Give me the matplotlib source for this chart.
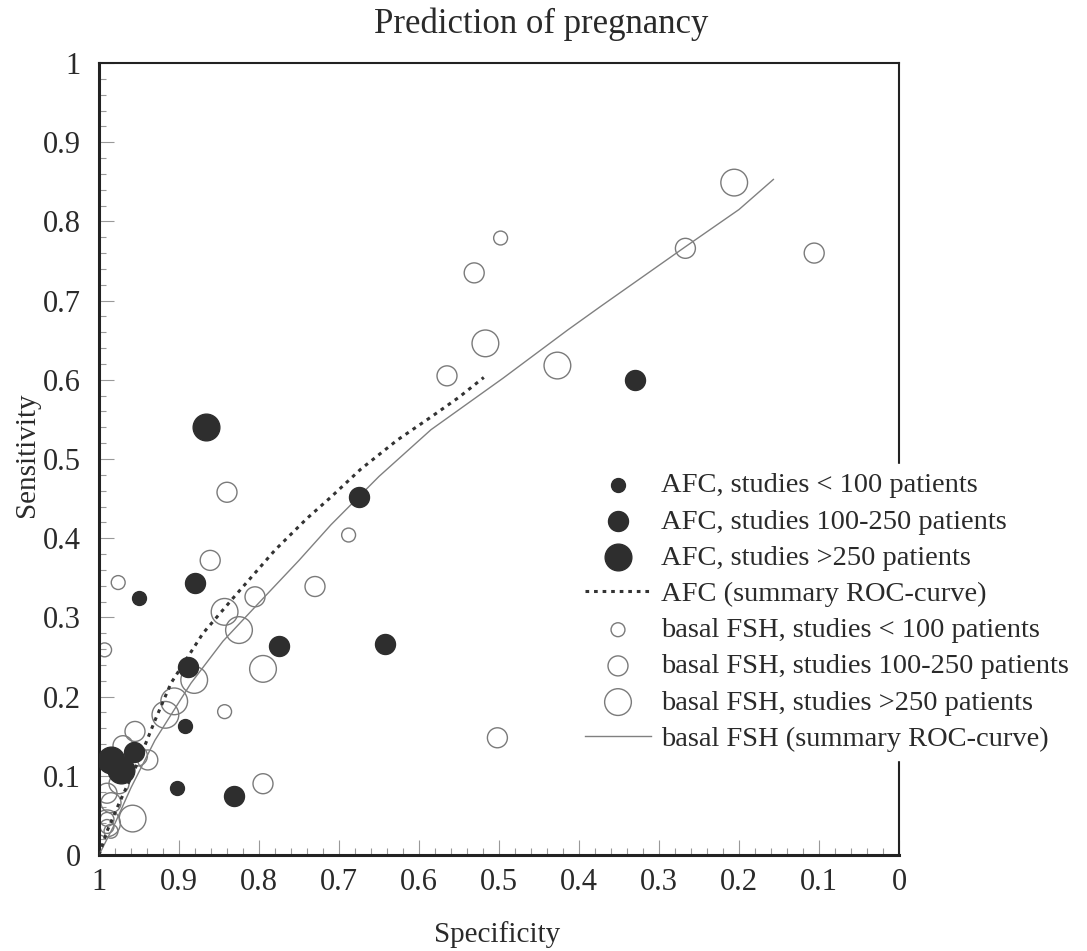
import matplotlib.pyplot as plt
from matplotlib.ticker import MultipleLocator, FixedLocator

plt.rcParams['font.family'] = ['Liberation Serif', 'DejaVu Serif']
plt.rcParams['text.color'] = '#2a2a2a'
plt.rcParams['xtick.labelcolor'] = '#2a2a2a'
plt.rcParams['ytick.labelcolor'] = '#2a2a2a'

# AFC studies (specificity, sensitivity)
afc_small_spec = [0.950, 0.892, 0.902]
afc_small_sens = [0.324, 0.163, 0.085]
afc_mid_spec = [0.880, 0.889, 0.775, 0.643, 0.675, 0.330, 0.831, 0.956]
afc_mid_sens = [0.343, 0.238, 0.264, 0.267, 0.452, 0.600, 0.074, 0.130]
afc_big_spec = [0.866, 0.985, 0.973]
afc_big_sens = [0.540, 0.120, 0.107]

# basal FSH studies
fsh_small_spec = [0.498, 0.688, 0.976, 0.993, 0.843, 0.990, 0.990, 0.985]
fsh_small_sens = [0.779, 0.404, 0.344, 0.259, 0.181, 0.045, 0.036, 0.030]
fsh_mid_spec = [0.267, 0.106, 0.531, 0.565, 0.840, 0.861, 0.730, 0.805, 0.502,
                0.795, 0.955, 0.939, 0.952, 0.970, 0.990, 0.985, 0.975]
fsh_mid_sens = [0.766, 0.760, 0.735, 0.605, 0.458, 0.372, 0.339, 0.326, 0.148,
                0.090, 0.156, 0.120, 0.125, 0.138, 0.078, 0.066, 0.090]
fsh_big_spec = [0.206, 0.517, 0.427, 0.843, 0.825, 0.795, 0.881, 0.906, 0.917,
                0.958, 0.990]
fsh_big_sens = [0.849, 0.646, 0.618, 0.307, 0.284, 0.235, 0.221, 0.194, 0.177,
                0.046, 0.040]

# summary ROC curves
afc_roc_spec = [1.0, 0.99, 0.975, 0.95, 0.93, 0.91, 0.87, 0.831, 0.78, 0.74,
                0.71, 0.673, 0.627, 0.585, 0.55, 0.519]
afc_roc_sens = [0.0, 0.03, 0.065, 0.12, 0.17, 0.217, 0.28, 0.326, 0.385, 0.425,
                0.452, 0.487, 0.524, 0.553, 0.578, 0.603]
fsh_roc_spec = [1.0, 0.98, 0.96, 0.93, 0.885, 0.845, 0.793, 0.75, 0.71, 0.65,
                0.585, 0.495, 0.414, 0.3725, 0.267, 0.2, 0.157]
fsh_roc_sens = [0.0, 0.04, 0.085, 0.145, 0.217, 0.27, 0.326, 0.372, 0.417, 0.478,
                0.537, 0.602, 0.663, 0.693, 0.768, 0.815, 0.853]

ticks = [1, 0.9, 0.8, 0.7, 0.6, 0.5, 0.4, 0.3, 0.2, 0.1, 0]
tick_labels = ['1', '0.9', '0.8', '0.7', '0.6', '0.5', '0.4', '0.3', '0.2', '0.1', '0']

fig = plt.figure(figsize=(10.87, 9.51), dpi=100)
ax = fig.add_axes([99 / 1087, 96 / 951, 800 / 1087, 792 / 951])

dark = '#2e2e2e'
grey = '#7a7a7a'
s_small, s_mid, s_big = 100, 207, 370

h5 = ax.scatter(fsh_small_spec, fsh_small_sens, s=s_small, facecolors='none',
                edgecolors=grey, linewidths=1, zorder=2,
                label='basal FSH, studies < 100 patients')
h6 = ax.scatter(fsh_mid_spec, fsh_mid_sens, s=s_mid, facecolors='none',
                edgecolors=grey, linewidths=1, zorder=2,
                label='basal FSH, studies 100-250 patients')
h7 = ax.scatter(fsh_big_spec, fsh_big_sens, s=s_big, facecolors='none',
                edgecolors=grey, linewidths=1, zorder=2,
                label='basal FSH, studies >250 patients')
h8, = ax.plot(fsh_roc_spec, fsh_roc_sens, color='#808080', lw=1, zorder=3,
              label='basal FSH (summary ROC-curve)')
h4, = ax.plot(afc_roc_spec, afc_roc_sens, color='#333333', lw=2.2,
              linestyle=(0, (1.2, 1.6)), zorder=3,
              label='AFC (summary ROC-curve)')
h1 = ax.scatter(afc_small_spec, afc_small_sens, s=s_small, color=dark, zorder=4,
                label='AFC, studies < 100 patients')
h2 = ax.scatter(afc_mid_spec, afc_mid_sens, s=s_mid, color=dark, zorder=4,
                label='AFC, studies 100-250 patients')
h3 = ax.scatter(afc_big_spec, afc_big_sens, s=s_big, color=dark, zorder=4,
                label='AFC, studies >250 patients')

ax.set_xlim(1, 0)
ax.set_ylim(0, 1)
ax.xaxis.set_major_locator(FixedLocator(ticks))
ax.set_xticklabels(tick_labels)
ax.yaxis.set_major_locator(FixedLocator(ticks))
ax.set_yticklabels(tick_labels)
ax.xaxis.set_minor_locator(MultipleLocator(0.02))
ax.yaxis.set_minor_locator(MultipleLocator(0.02))
ax.tick_params(axis='both', which='major', direction='in', length=11, width=0.8,
               color='#999999', labelsize=22)
ax.tick_params(axis='both', which='minor', direction='in', length=5, width=0.8,
               color='#999999')
ax.tick_params(axis='x', pad=9)
ax.tick_params(axis='y', pad=13)

for side in ['left', 'bottom']:
    ax.spines[side].set_linewidth(2.2)
    ax.spines[side].set_color('#222222')
for side in ['top', 'right']:
    ax.spines[side].set_linewidth(1.5)
    ax.spines[side].set_color('#222222')

fig.text(0.498, 1 - 33 / 951, 'Prediction of pregnancy', ha='center',
         va='baseline', fontsize=25)
fig.text(27 / 1087, 1 - 455 / 951, 'Sensitivity', rotation=90, ha='center',
         va='center', fontsize=21)
fig.text(497 / 1087, 1 - 935 / 951, 'Specificity', ha='center', va='center',
         fontsize=21)

# legend sits over the right spine, white box hides it
leg = ax.legend(handles=[h1, h2, h3, h4, h5, h6, h7, h8], loc='upper left',
                bbox_to_anchor=(576 / 1087, 1 - 464 / 951),
                bbox_transform=fig.transFigure, fontsize=20.5, frameon=True,
                facecolor='white', edgecolor='white', framealpha=1,
                fancybox=False, borderpad=0.3, borderaxespad=0,
                labelspacing=0.36, handlelength=2.35, handletextpad=0.35,
                scatterpoints=1)
leg.set_zorder(10)
leg.set_clip_on(False)

fig.savefig('out.png', dpi=100)
